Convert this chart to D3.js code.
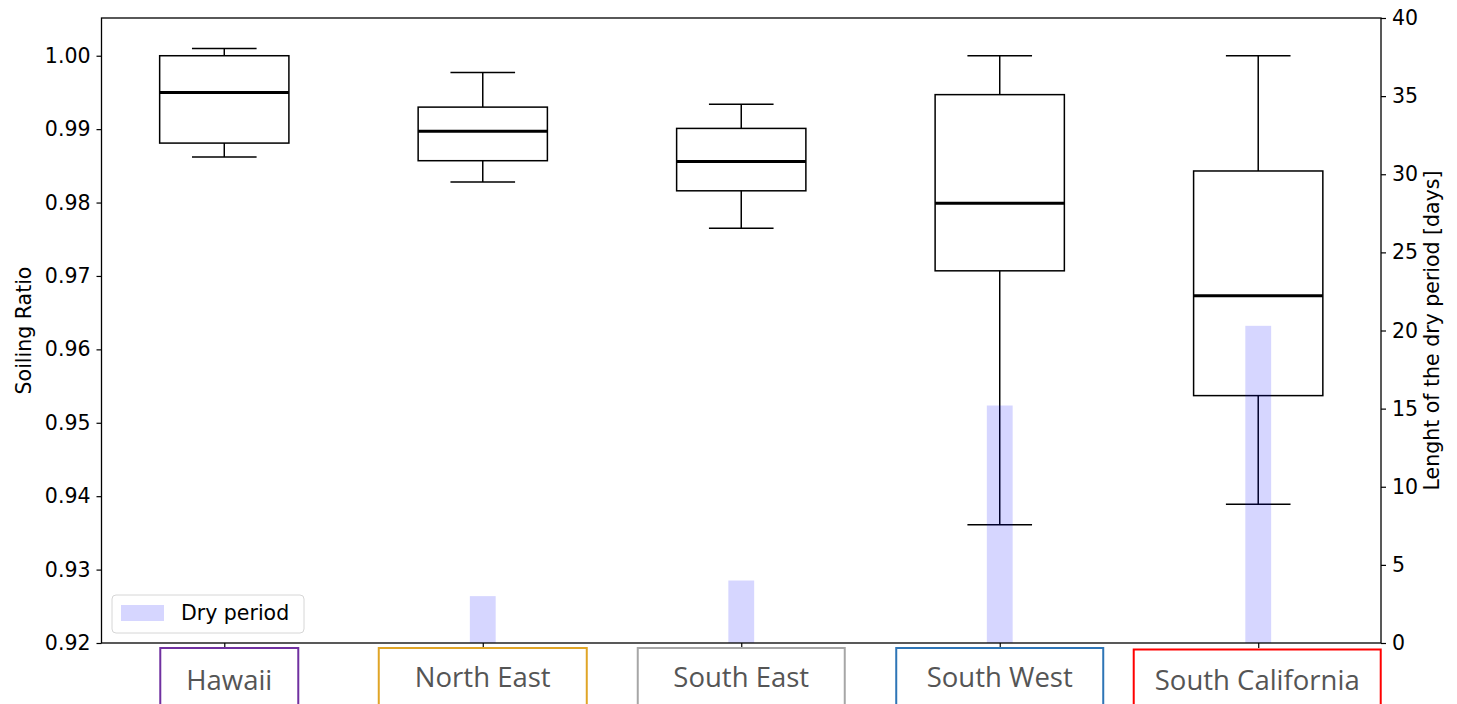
<!DOCTYPE html>
<html>
<head>
<meta charset="utf-8">
<script src="https://cdn.jsdelivr.net/npm/d3@7"></script>
<style>
  body { margin: 0; background: #fff; }
</style>
</head>
<body>
<div id="container"></div>
<script>
// data
const categories = ["Hawaii", "North East", "South East", "South West", "South California"];
const whiskerHigh = [1.0010, 0.9977, 0.9934, 1.0000, 1.0000];
const q3 = [1.0000, 0.9930, 0.9901, 0.9947, 0.9843];
const median = [0.9950, 0.9897, 0.9856, 0.9799, 0.9673];
const q1 = [0.9881, 0.9857, 0.9816, 0.9707, 0.9537];
const whiskerLow = [0.9862, 0.9828, 0.9765, 0.9361, 0.9389];
const dryDays = [0, 3, 4, 15.2, 20.3];

const leftTicks = [0.92, 0.93, 0.94, 0.95, 0.96, 0.97, 0.98, 0.99, 1.00];
const rightTicks = [0, 5, 10, 15, 20, 25, 30, 35, 40];

// label box styling (outline colours / widths of the category tags)
const tagColors = ["#7030a0", "#e0a526", "#a6a6a6", "#2e75b6", "#ff0000"];
const tagWidths = [138, 208, 207, 207, 247];
const tagShift = [5, 0, 0, 0, -1];

const width = 1457, height = 704;
const mLeft = 101.5, mRight = 1381, mTop = 18, mBottom = 643;

const svg = d3.select("#container")
  .append("svg")
  .attr("width", width)
  .attr("height", height)
  .style("font-family", "DejaVu Sans");

const x = d3.scaleLinear().domain([0.525, 5.475]).range([mLeft, mRight]);
const y = d3.scaleLinear().domain([0.92, 1.00514]).range([mBottom, mTop]);
const yR = d3.scaleLinear().domain([0, 40]).range([mBottom, mTop]);

const data = categories.map((c, i) => ({
  name: c, pos: i + 1,
  lo: whiskerLow[i], q1: q1[i], med: median[i], q3: q3[i], hi: whiskerHigh[i],
  dry: dryDays[i]
}));

// axes
const axL = svg.append("g")
  .attr("transform", `translate(${mLeft},0)`)
  .call(d3.axisLeft(y).tickValues(leftTicks).tickFormat(d3.format(".2f")).tickSize(5).tickPadding(6));
const axR = svg.append("g")
  .attr("transform", `translate(${mRight},0)`)
  .call(d3.axisRight(yR).tickValues(rightTicks).tickSize(5).tickPadding(6));
const axB = svg.append("g")
  .attr("transform", `translate(0,${mBottom})`)
  .call(d3.axisBottom(x).tickValues(data.map(d => d.pos)).tickFormat("").tickSize(5));

[axL, axR, axB].forEach(a => {
  a.select(".domain").remove();
  a.selectAll("line").attr("stroke", "#000").attr("stroke-width", 1.2);
  a.selectAll("text").attr("fill", "#000").style("font-size", "20.5px").style("font-family", "DejaVu Sans");
});

// boxplots
const bw = 0.5, cw = 0.25;
const boxes = svg.append("g").attr("stroke", "#000").attr("fill", "none").attr("stroke-width", 1.5);

data.forEach(d => {
  const g = boxes.append("g");
  g.append("line").attr("x1", x(d.pos)).attr("x2", x(d.pos)).attr("y1", y(d.q3)).attr("y2", y(d.hi));
  g.append("line").attr("x1", x(d.pos)).attr("x2", x(d.pos)).attr("y1", y(d.q1)).attr("y2", y(d.lo));
  g.append("line").attr("x1", x(d.pos - cw / 2)).attr("x2", x(d.pos + cw / 2)).attr("y1", y(d.hi)).attr("y2", y(d.hi));
  g.append("line").attr("x1", x(d.pos - cw / 2)).attr("x2", x(d.pos + cw / 2)).attr("y1", y(d.lo)).attr("y2", y(d.lo));
  g.append("rect")
    .attr("x", x(d.pos - bw / 2)).attr("width", x(d.pos + bw / 2) - x(d.pos - bw / 2))
    .attr("y", y(d.q3)).attr("height", y(d.q1) - y(d.q3));
  g.append("line").attr("x1", x(d.pos - bw / 2)).attr("x2", x(d.pos + bw / 2))
    .attr("y1", y(d.med)).attr("y2", y(d.med)).attr("stroke-width", 3);
});

// dry period bars (twin axis, on top)
const barW = 0.1;
svg.append("g").selectAll("rect")
  .data(data)
  .join("rect")
  .attr("x", d => x(d.pos - barW / 2))
  .attr("width", x(1 + barW) - x(1))
  .attr("y", d => yR(d.dry))
  .attr("height", d => yR(0) - yR(d.dry))
  .attr("fill", "blue")
  .attr("fill-opacity", 0.16);

// frame
svg.append("rect")
  .attr("x", mLeft).attr("y", mTop)
  .attr("width", mRight - mLeft).attr("height", mBottom - mTop)
  .attr("fill", "none").attr("stroke", "#000").attr("stroke-width", 1.3);

// axis titles
svg.append("text")
  .attr("transform", `translate(31,${(mTop + mBottom) / 2}) rotate(-90)`)
  .attr("text-anchor", "middle")
  .style("font-size", "20.5px")
  .text("Soiling Ratio");

svg.append("text")
  .attr("transform", `translate(1439,${(mTop + mBottom) / 2}) rotate(-90)`)
  .attr("text-anchor", "middle")
  .style("font-size", "20.5px")
  .text("Lenght of the dry period [days]");

// legend
const legend = svg.append("g").attr("transform", "translate(112,595)");
legend.append("rect")
  .attr("width", 192).attr("height", 38).attr("rx", 4)
  .attr("fill", "#fff").attr("fill-opacity", 0.8)
  .attr("stroke", "#d6d6d6").attr("stroke-width", 1);
legend.append("rect")
  .attr("x", 9).attr("y", 10).attr("width", 43).attr("height", 16)
  .attr("fill", "blue").attr("fill-opacity", 0.16);
legend.append("text")
  .attr("x", 69).attr("y", 25)
  .style("font-size", "20.5px")
  .text("Dry period");

// category tags under the axis
const tags = svg.append("g").selectAll("g")
  .data(data)
  .join("g")
  .attr("transform", (d, i) => `translate(${x(d.pos) + tagShift[i]},0)`);

tags.append("rect")
  .attr("x", (d, i) => -tagWidths[i] / 2)
  .attr("y", (d, i) => i === 4 ? 649.5 : 648)
  .attr("width", (d, i) => tagWidths[i])
  .attr("height", 80)
  .attr("fill", "#fff")
  .attr("stroke", (d, i) => tagColors[i])
  .attr("stroke-width", 2);

tags.append("text")
  .attr("text-anchor", "middle")
  .attr("y", (d, i) => i === 0 || i === 4 ? 689.5 : 687)
  .style("font-family", "Open Sans")
  .style("font-size", "27.5px")
  .attr("fill", "#555")
  .text(d => d.name);
</script>
</body>
</html>
